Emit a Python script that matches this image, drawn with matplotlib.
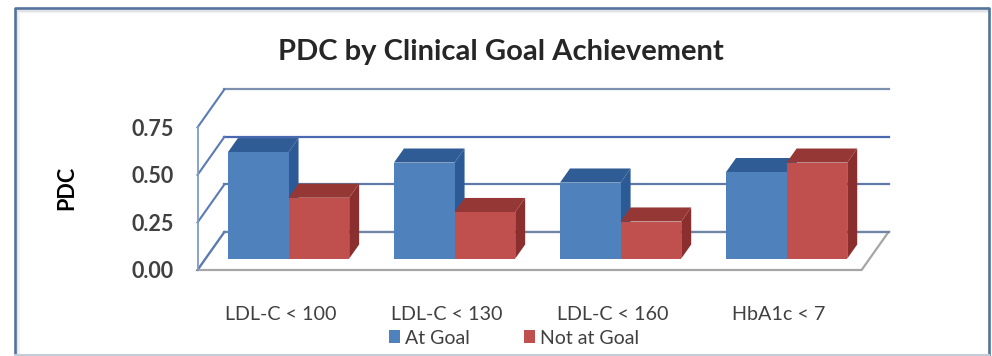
import matplotlib
matplotlib.use("Agg")
import matplotlib.pyplot as plt
from matplotlib.lines import Line2D
from matplotlib.patches import Polygon, Rectangle

plt.rcParams["font.family"] = ["Lato", "DejaVu Sans"]

# values
categories = ["LDL-C < 100", "LDL-C < 130", "LDL-C < 160", "HbA1c < 7"]
at_goal = [0.56, 0.505, 0.40, 0.455]
not_at_goal = [0.32, 0.245, 0.195, 0.505]
y_ticks = [0.00, 0.25, 0.50, 0.75]
series_names = ["At Goal", "Not at Goal"]

W, H = 992, 356
fig = plt.figure(figsize=(W / 100, H / 100), dpi=100, facecolor="white")
ax = fig.add_axes([197.5 / W, 1 - 270 / H, 691 / W, 181 / H])
ax.set_xlim(-0.5, 3.662)
ax.set_ylim(0, 0.952)
for s in ax.spines.values():
    s.set_visible(False)

# oblique offset of the back wall, in data units
depth_x = 0.162
depth_y = 0.2
bar_w = 0.365
bar_front = 0.30
bar_back = 0.67


def skew(x, y, d):
    return (x + depth_x * d, y + depth_y * d)


def bar3d(x0, x1, val, front, top, side):
    a, b = bar_front, bar_back
    ax.add_patch(Polygon([skew(x1, 0, a), skew(x1, 0, b), skew(x1, val, b), skew(x1, val, a)],
                         fc=side, ec="none", zorder=3, clip_on=False))
    ax.add_patch(Polygon([skew(x0, val, a), skew(x1, val, a), skew(x1, val, b), skew(x0, val, b)],
                         fc=top, ec="none", zorder=3, clip_on=False))
    ax.add_patch(Rectangle(skew(x0, 0, a), x1 - x0, val, fc=front, ec="none", zorder=3, clip_on=False))


# floor
x_left, x_right = -0.5, 3.5
ax.add_patch(Polygon([skew(x_left, 0, 0), skew(x_right, 0, 0), skew(x_right, 0, 1), skew(x_left, 0, 1)],
                     fc="white", ec="#a6a6a6", lw=1.6, zorder=1, clip_on=False))

# gridlines on back wall and side wall
grid_cols = {0.00: "#6f86a8", 0.25: "#5f7aa8", 0.50: "#4a68b0", 0.75: "#7d90ad"}
for t in y_ticks:
    p0 = skew(x_left, t, 1)
    p1 = skew(x_right, t, 1)
    ax.plot([p0[0], p1[0]], [p0[1], p1[1]], color=grid_cols[t], lw=1.6, zorder=2, clip_on=False)
    p2 = skew(x_left, t, 0)
    ax.plot([p2[0], p0[0]], [p2[1], p0[1]], color="#5a7bb5", lw=1.5, zorder=2, clip_on=False)
ax.plot([x_left, x_left], [0, 0.75], color="#7f9cc9", lw=1.3, zorder=2, clip_on=False)

for i in range(len(categories)):
    bar3d(i - bar_w, i, at_goal[i], "#4f81bd", "#2f5c94", "#2c5a96")
    bar3d(i, i + bar_w, not_at_goal[i], "#c0504d", "#953735", "#8a2f2d")

ax.set_xticks(range(len(categories)))
ax.set_xticklabels(categories, fontsize=14.2, color="#404040")
ax.set_yticks(y_ticks)
ax.set_yticklabels(["%.2f" % t for t in y_ticks], fontsize=15.5, color="#404040", fontweight="bold")
ax.tick_params(axis="x", length=0, pad=26)
ax.tick_params(axis="y", length=0, pad=17)
ax.set_ylabel("PDC", fontsize=15.5, fontweight="bold", color="black")
ax.yaxis.set_label_coords((77 - 197.5) / 691, (270 - 188) / 181)

fig.text(501 / W, 1 - 52 / H, "PDC by Clinical Goal Achievement", fontsize=21, fontweight="bold",
         color="#262626", ha="center", va="center")

# legend
handles = [Rectangle((0, 0), 1, 1, fc="#4f81bd"), Rectangle((0, 0), 1, 1, fc="#c0504d")]
fig.legend(handles, series_names, ncol=2, loc="center", bbox_to_anchor=(514 / W, 1 - 338 / H),
           frameon=False, fontsize=14, labelcolor="#404040", handlelength=0.6, handleheight=0.6,
           handletextpad=0.25, columnspacing=2.75)

# chart frame: dark on three sides, pale along the bottom, soft shade inside
left, right, top, bottom = 14.5, 989, 8, 354.5
for off, col in [(4, "#f3f3f3"), (2.5, "#e0e2e6")]:
    fig.add_artist(Line2D([(left + off) / W, (left + off) / W, (right - 1) / W],
                          [1 - bottom / H, 1 - (top + off) / H, 1 - (top + off) / H],
                          color=col, lw=1.5))
fig.add_artist(Line2D([left / W, left / W, right / W, right / W],
                      [1 - bottom / H, 1 - top / H, 1 - top / H, 1 - bottom / H],
                      color="#54739c", lw=1.9))
fig.add_artist(Line2D([left / W, right / W], [1 - bottom / H, 1 - bottom / H], color="#c3cdd9", lw=1.5))

fig.savefig("out.png", dpi=100)
